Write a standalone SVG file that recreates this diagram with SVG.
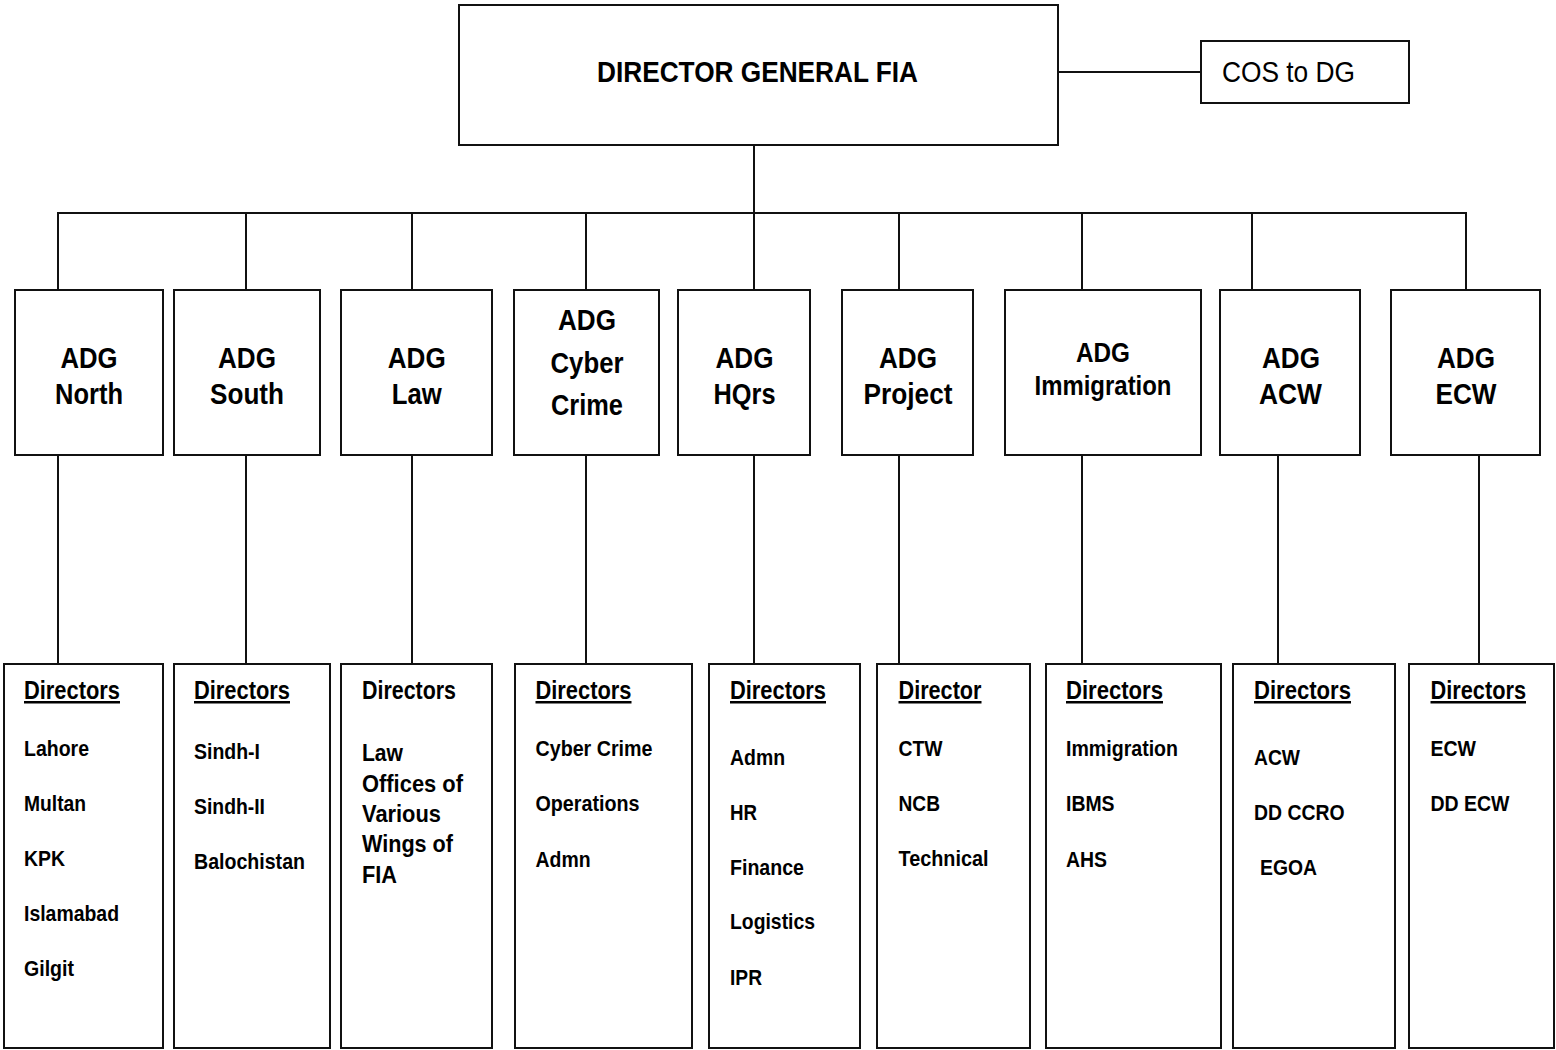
<svg xmlns="http://www.w3.org/2000/svg" width="1556" height="1050" viewBox="0 0 1556 1050">
<style>
rect{fill:#fff;stroke:#111;stroke-width:2}
.c line{stroke:#111;stroke-width:2}
text{font-family:"Liberation Sans",Arial,sans-serif;fill:#000}
.dg{font-size:29px;font-weight:bold;text-anchor:middle}
.cos{font-size:29px}
.adg{font-size:29px;font-weight:bold;text-anchor:middle}
.adgs{font-size:27px;font-weight:bold;text-anchor:middle}
.hd{font-size:25px;font-weight:bold}
.u{text-decoration:underline}
.it{font-size:22px;font-weight:bold}
.lw{font-size:24px;font-weight:bold}
</style>
<rect width="1556" height="1050" style="stroke:none"/>
<g class="c" id="connectors">
<line x1="1058" y1="72" x2="1201" y2="72"/>
<line x1="754" y1="145" x2="754" y2="213"/>
<line x1="57" y1="213" x2="1467" y2="213"/>
<line x1="58" y1="213" x2="58" y2="290"/>
<line x1="246" y1="213" x2="246" y2="290"/>
<line x1="412" y1="213" x2="412" y2="290"/>
<line x1="586" y1="213" x2="586" y2="290"/>
<line x1="754" y1="213" x2="754" y2="290"/>
<line x1="899" y1="213" x2="899" y2="290"/>
<line x1="1082" y1="213" x2="1082" y2="290"/>
<line x1="1252" y1="213" x2="1252" y2="290"/>
<line x1="1466" y1="213" x2="1466" y2="290"/>
<line x1="58" y1="455" x2="58" y2="664"/>
<line x1="246" y1="455" x2="246" y2="664"/>
<line x1="412" y1="455" x2="412" y2="664"/>
<line x1="586" y1="455" x2="586" y2="664"/>
<line x1="754" y1="455" x2="754" y2="664"/>
<line x1="899" y1="455" x2="899" y2="664"/>
<line x1="1082" y1="455" x2="1082" y2="664"/>
<line x1="1278" y1="455" x2="1278" y2="664"/>
<line x1="1479" y1="455" x2="1479" y2="664"/>
</g>
<g id="dg"><rect x="459" y="5" width="599" height="140"/><text class="dg" x="757.5" y="82" textLength="321" lengthAdjust="spacingAndGlyphs">DIRECTOR GENERAL FIA</text></g>
<g id="cos"><rect x="1201" y="41" width="208" height="62"/><text class="cos" x="1222" y="82" textLength="133" lengthAdjust="spacingAndGlyphs">COS to DG</text></g>

<g id="adg-north"><rect x="15" y="290" width="148" height="165"/><text class="adg" x="89" y="368" textLength="57" lengthAdjust="spacingAndGlyphs">ADG</text><text class="adg" x="89" y="404" textLength="68" lengthAdjust="spacingAndGlyphs">North</text></g>
<g id="adg-south"><rect x="174" y="290" width="146" height="165"/><text class="adg" x="247" y="368" textLength="58" lengthAdjust="spacingAndGlyphs">ADG</text><text class="adg" x="247" y="404" textLength="74" lengthAdjust="spacingAndGlyphs">South</text></g>
<g id="adg-law"><rect x="341" y="290" width="151" height="165"/><text class="adg" x="416.7" y="368" textLength="58" lengthAdjust="spacingAndGlyphs">ADG</text><text class="adg" x="416.7" y="404" textLength="50" lengthAdjust="spacingAndGlyphs">Law</text></g>
<g id="adg-cyber"><rect x="514" y="290" width="145" height="165"/><text class="adg" x="587" y="330" textLength="58" lengthAdjust="spacingAndGlyphs">ADG</text><text class="adg" x="587" y="373" textLength="73" lengthAdjust="spacingAndGlyphs">Cyber</text><text class="adg" x="587" y="415" textLength="72" lengthAdjust="spacingAndGlyphs">Crime</text></g>
<g id="adg-hqrs"><rect x="678" y="290" width="132" height="165"/><text class="adg" x="744.5" y="368" textLength="58" lengthAdjust="spacingAndGlyphs">ADG</text><text class="adg" x="744.5" y="404" textLength="62" lengthAdjust="spacingAndGlyphs">HQrs</text></g>
<g id="adg-project"><rect x="842" y="290" width="131" height="165"/><text class="adg" x="908" y="368" textLength="58" lengthAdjust="spacingAndGlyphs">ADG</text><text class="adg" x="908" y="404" textLength="89" lengthAdjust="spacingAndGlyphs">Project</text></g>
<g id="adg-immigration"><rect x="1005" y="290" width="196" height="165"/><text class="adgs" x="1103" y="362" textLength="54" lengthAdjust="spacingAndGlyphs">ADG</text><text class="adgs" x="1103" y="395" textLength="137" lengthAdjust="spacingAndGlyphs">Immigration</text></g>
<g id="adg-acw"><rect x="1220" y="290" width="140" height="165"/><text class="adg" x="1291" y="368" textLength="58" lengthAdjust="spacingAndGlyphs">ADG</text><text class="adg" x="1290.5" y="404" textLength="63" lengthAdjust="spacingAndGlyphs">ACW</text></g>
<g id="adg-ecw"><rect x="1391" y="290" width="149" height="165"/><text class="adg" x="1466" y="368" textLength="58" lengthAdjust="spacingAndGlyphs">ADG</text><text class="adg" x="1466" y="404" textLength="61" lengthAdjust="spacingAndGlyphs">ECW</text></g>

<g id="dir-north"><rect x="4" y="664" width="159" height="384"/>
<text class="hd u" x="24" y="699" textLength="96" lengthAdjust="spacingAndGlyphs">Directors</text>
<text class="it" x="24" y="756" textLength="65" lengthAdjust="spacingAndGlyphs">Lahore</text>
<text class="it" x="24" y="811" textLength="62" lengthAdjust="spacingAndGlyphs">Multan</text>
<text class="it" x="24" y="866" textLength="41" lengthAdjust="spacingAndGlyphs">KPK</text>
<text class="it" x="24" y="921" textLength="95" lengthAdjust="spacingAndGlyphs">Islamabad</text>
<text class="it" x="24" y="976" textLength="50" lengthAdjust="spacingAndGlyphs">Gilgit</text></g>

<g id="dir-south"><rect x="174" y="664" width="156" height="384"/>
<text class="hd u" x="194" y="699" textLength="96" lengthAdjust="spacingAndGlyphs">Directors</text>
<text class="it" x="194" y="759" textLength="66" lengthAdjust="spacingAndGlyphs">Sindh-I</text>
<text class="it" x="194" y="814" textLength="71" lengthAdjust="spacingAndGlyphs">Sindh-II</text>
<text class="it" x="194" y="869" textLength="111" lengthAdjust="spacingAndGlyphs">Balochistan</text></g>

<g id="dir-law"><rect x="341" y="664" width="151" height="384"/>
<text class="hd" x="362" y="699" textLength="94" lengthAdjust="spacingAndGlyphs">Directors</text>
<text class="lw" x="362" y="761" textLength="41" lengthAdjust="spacingAndGlyphs">Law</text>
<text class="lw" x="362" y="792" textLength="101" lengthAdjust="spacingAndGlyphs">Offices of</text>
<text class="lw" x="362" y="822" textLength="79" lengthAdjust="spacingAndGlyphs">Various</text>
<text class="lw" x="362" y="852" textLength="91" lengthAdjust="spacingAndGlyphs">Wings of</text>
<text class="lw" x="362" y="883" textLength="35" lengthAdjust="spacingAndGlyphs">FIA</text></g>

<g id="dir-cyber"><rect x="515" y="664" width="177" height="384"/>
<text class="hd u" x="535.5" y="699" textLength="96" lengthAdjust="spacingAndGlyphs">Directors</text>
<text class="it" x="535.5" y="756" textLength="117" lengthAdjust="spacingAndGlyphs">Cyber Crime</text>
<text class="it" x="535.5" y="811" textLength="104" lengthAdjust="spacingAndGlyphs">Operations</text>
<text class="it" x="535.5" y="867" textLength="55" lengthAdjust="spacingAndGlyphs">Admn</text></g>

<g id="dir-hqrs"><rect x="709" y="664" width="151" height="384"/>
<text class="hd u" x="730" y="699" textLength="96" lengthAdjust="spacingAndGlyphs">Directors</text>
<text class="it" x="730" y="765" textLength="55" lengthAdjust="spacingAndGlyphs">Admn</text>
<text class="it" x="730" y="820" textLength="27" lengthAdjust="spacingAndGlyphs">HR</text>
<text class="it" x="730" y="875" textLength="74" lengthAdjust="spacingAndGlyphs">Finance</text>
<text class="it" x="730" y="929" textLength="85" lengthAdjust="spacingAndGlyphs">Logistics</text>
<text class="it" x="730" y="985" textLength="32" lengthAdjust="spacingAndGlyphs">IPR</text></g>

<g id="dir-project"><rect x="877" y="664" width="153" height="384"/>
<text class="hd u" x="898.5" y="699" textLength="83" lengthAdjust="spacingAndGlyphs">Director</text>
<text class="it" x="898.5" y="756" textLength="44" lengthAdjust="spacingAndGlyphs">CTW</text>
<text class="it" x="898.5" y="811" textLength="41.5" lengthAdjust="spacingAndGlyphs">NCB</text>
<text class="it" x="898.5" y="866" textLength="90" lengthAdjust="spacingAndGlyphs">Technical</text></g>

<g id="dir-immigration"><rect x="1046" y="664" width="175" height="384"/>
<text class="hd u" x="1066" y="699" textLength="97" lengthAdjust="spacingAndGlyphs">Directors</text>
<text class="it" x="1066" y="756" textLength="112" lengthAdjust="spacingAndGlyphs">Immigration</text>
<text class="it" x="1066" y="811" textLength="48.5" lengthAdjust="spacingAndGlyphs">IBMS</text>
<text class="it" x="1066" y="867" textLength="41" lengthAdjust="spacingAndGlyphs">AHS</text></g>

<g id="dir-acw"><rect x="1233" y="664" width="162" height="384"/>
<text class="hd u" x="1254" y="699" textLength="97" lengthAdjust="spacingAndGlyphs">Directors</text>
<text class="it" x="1254" y="765" textLength="46" lengthAdjust="spacingAndGlyphs">ACW</text>
<text class="it" x="1254" y="820" textLength="90.5" lengthAdjust="spacingAndGlyphs">DD CCRO</text>
<text class="it" x="1260" y="875" textLength="57" lengthAdjust="spacingAndGlyphs">EGOA</text></g>

<g id="dir-ecw"><rect x="1409" y="664" width="145" height="384"/>
<text class="hd u" x="1430.5" y="699" textLength="95.5" lengthAdjust="spacingAndGlyphs">Directors</text>
<text class="it" x="1430.5" y="756" textLength="45.5" lengthAdjust="spacingAndGlyphs">ECW</text>
<text class="it" x="1430.5" y="811" textLength="79" lengthAdjust="spacingAndGlyphs">DD ECW</text></g>
</svg>
